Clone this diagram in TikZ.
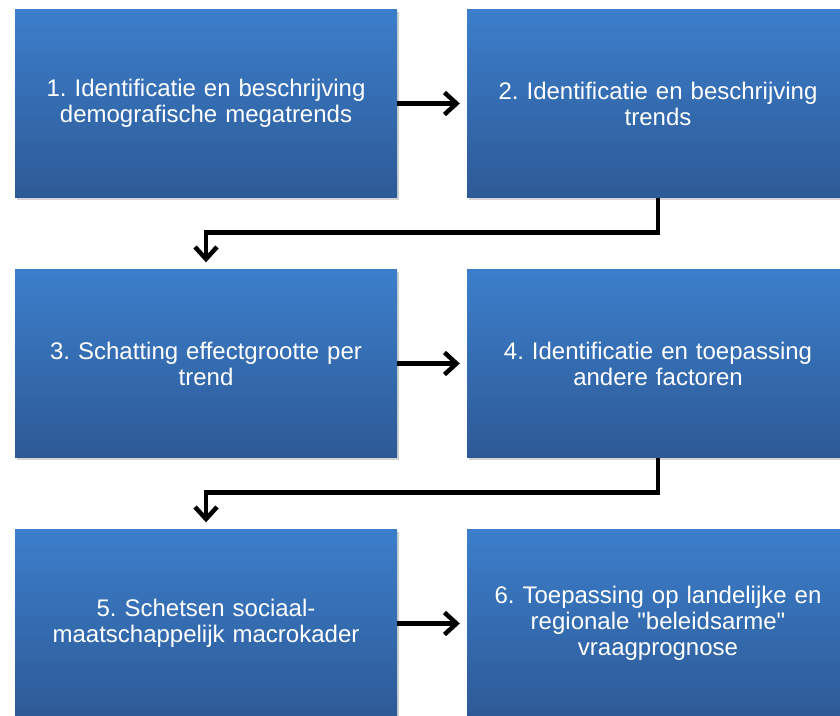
\documentclass[tikz,border=0pt]{standalone}
\usepackage{fontspec}
\setmainfont{Liberation Sans}
\frenchspacing
\usetikzlibrary{arrows.meta,shadows}

\definecolor{stapboven}{RGB}{60,126,203}
\definecolor{stiponder}{RGB}{45,90,150}

\begin{document}
\begin{tikzpicture}[
       x=1pt, y=-1pt,
       stap/.style={
         rectangle,
         top color=stapboven,
         bottom color=stiponder,
         draw=none,
         minimum width=382pt,
         minimum height=188pt,
         text width=360pt,
         align=center,
         text=white,
         font=\fontsize{24}{26}\selectfont,
         drop shadow={shadow xshift=2pt, shadow yshift=-2pt, opacity=0.35}
       },
       pijl/.style={
         line width=4.5pt,
         -{Straight Barb[length=12pt,width=22pt,line width=4.5pt]},
         shorten >=7pt
       }
     ]

       \useasboundingbox (0,0) rectangle (840,715);

       \node (s1) at (206,103.5) [stap]{1. Identificatie en beschrijving\\demografische megatrends};
       \node (s2) at (658,103.5) [stap]{2. Identificatie en beschrijving\\trends};

       \node (s3) at (206,363.5) [stap]{3. Schatting effectgrootte per\\trend};
       \node (s4) at (658,363.5) [stap]{4. Identificatie en toepassing\\andere factoren};

       \node (s5) at (206,623.5) [stap]{5. Schetsen sociaal-\\maatschappelijk macrokader};
       \node (s6) at (658,623.5) [stap]{6. Toepassing op landelijke en\\regionale \textquotedbl beleidsarme\textquotedbl\\vraagprognose};

       \draw [pijl] (s1) -- (s2);
       \draw [pijl] (s3) -- (s4);
       \draw [pijl] (s5) -- (s6);

       \draw [pijl, line join=miter] (s2.south) -- ++(0,35) -| (s3.north);
       \draw [pijl, line join=miter] (s4.south) -- ++(0,35) -| (s5.north);

\end{tikzpicture}
\end{document}
